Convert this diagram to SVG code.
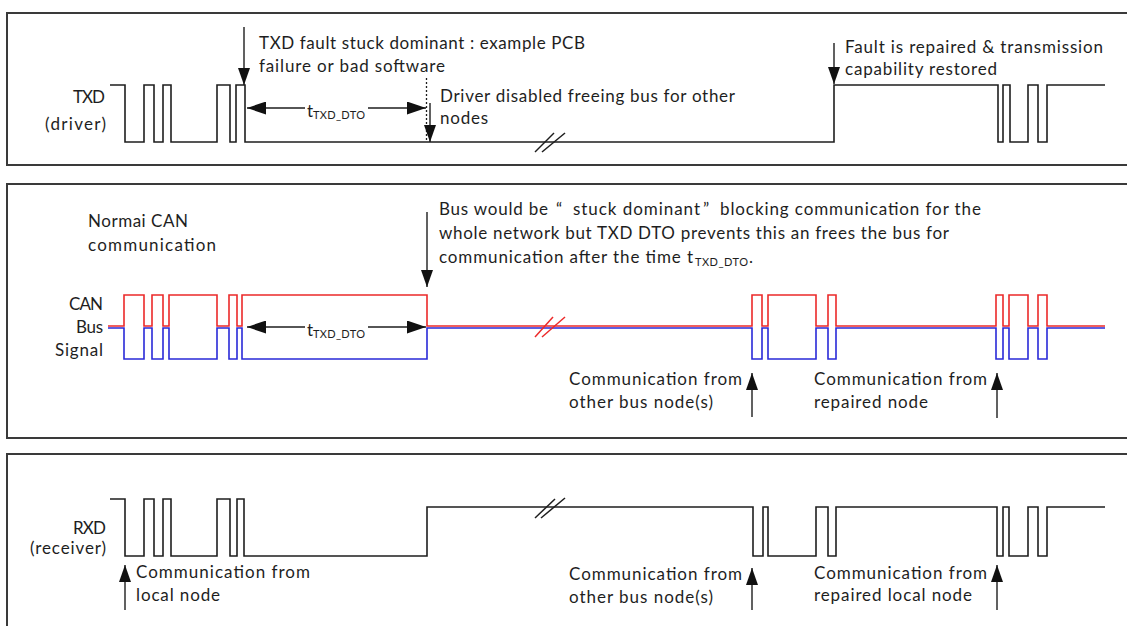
<svg xmlns="http://www.w3.org/2000/svg" width="1127" height="626" viewBox="0 0 1127 626">
<style>
.frame{fill:none;stroke:#3a3a3a;stroke-width:2}
.wave{fill:none;stroke:#1e1e1e;stroke-width:1.6}
.red{fill:none;stroke:#ec2a2a;stroke-width:1.6}
.blue{fill:none;stroke:#2a2ad8;stroke-width:1.6}
.conn{fill:none;stroke:#1e1e1e;stroke-width:1.4}
.dot{fill:none;stroke:#1e1e1e;stroke-width:1.3;stroke-dasharray:2 2}
.brk{stroke:#1e1e1e;stroke-width:1.5}
.brkr{stroke:#ec2a2a;stroke-width:1.5}
text{font-family:Lato,"Liberation Sans",sans-serif;font-size:17px;fill:#1e1e1e}
.sub{font-size:11px}
</style>
<defs>
<marker id="ah" markerUnits="userSpaceOnUse" markerWidth="17" markerHeight="12" refX="17" refY="6" orient="auto"><path d="M0,0 L17,6 L0,12 z" fill="#111"/></marker>
<marker id="ahd" markerUnits="userSpaceOnUse" markerWidth="19" markerHeight="13" refX="19" refY="6.5" orient="auto"><path d="M0,0 L19,6.5 L0,13 z" fill="#111"/></marker>
</defs>
<rect width="1127" height="626" fill="#fff"/>

<g id="panel-txd">
<rect class="frame" x="7" y="13" width="1130" height="152"/>
<text x="105" y="103" text-anchor="end" textLength="32">TXD</text>
<text x="106" y="130" text-anchor="end" textLength="61">(driver)</text>
<path class="wave" d="M110,85 H125 V142 H144 V85 H154 V142 H163 V85 H171 V142 H217 V85 H230 V142 H236 V85 H245 V142 H834 V85 H998 V142 H1003 V85 H1010 V142 H1028 V85 H1038 V142 H1047 V85 H1105"/>
<line class="brk" x1="535" y1="152" x2="554" y2="133"/>
<line class="brk" x1="542" y1="152" x2="565" y2="133"/>
<text x="259" y="49" textLength="326">TXD fault stuck dominant : example PCB</text>
<text x="259" y="72" textLength="186">failure or bad software</text>
<text x="440" y="102" textLength="295">Driver disabled freeing bus for other</text>
<text x="440" y="124" textLength="48">nodes</text>
<text x="845" y="53" textLength="258">Fault is repaired &amp; transmission</text>
<text x="845" y="75" textLength="152">capability restored</text>
<text x="307" y="117">t</text>
<text class="sub" x="313" y="119" textLength="52">TXD_DTO</text>
</g>

<g id="panel-can">
<rect class="frame" x="7" y="184" width="1130" height="254"/>
<text x="88" y="227" textLength="100">Normai CAN</text>
<text x="88" y="251" textLength="128">communication</text>
<text x="103" y="310" text-anchor="end" textLength="34">CAN</text>
<text x="103" y="333" text-anchor="end" textLength="27">Bus</text>
<text x="103" y="356" text-anchor="end" textLength="48">Signal</text>
<path class="blue" d="M108,328 H124 V359 H144 V328 H152 V359 H163 V328 H169 V359 H217 V328 H229 V359 H237 V328 H242 V359 H427 V328 H752 V359 H762 V328 H768 V359 H816 V328 H828 V359 H836 V328 H996 V359 H1003 V328 H1009 V359 H1028 V328 H1038 V359 H1047 V328 H1105"/>
<path class="red" d="M108,326 H124 V295 H144 V326 H152 V295 H163 V326 H169 V295 H217 V326 H229 V295 H237 V326 H242 V295 H427 V326 H752 V295 H762 V326 H768 V295 H816 V326 H828 V295 H836 V326 H996 V295 H1003 V326 H1009 V295 H1028 V326 H1038 V295 H1047 V326 H1105"/>
<line class="brkr" x1="535" y1="337" x2="553" y2="317"/>
<line class="brkr" x1="542" y1="337" x2="565" y2="317"/>
<text x="439" y="215" textLength="109">Bus would be</text>
<text x="556" y="215">“</text>
<text x="573" y="215" textLength="127">stuck dominant</text>
<text x="703" y="215">”</text>
<text x="720" y="215" textLength="261">blocking communication for the</text>
<text x="439" y="239" textLength="510">whole network but TXD DTO prevents this an frees the bus for</text>
<text x="439" y="263" textLength="254">communication after the time t</text>
<text class="sub" x="695" y="266" textLength="53">TXD_DTO</text>
<text x="749" y="263">.</text>
<text x="307" y="336">t</text>
<text class="sub" x="313" y="338" textLength="52">TXD_DTO</text>
<text x="569" y="385" textLength="173">Communication from</text>
<text x="569" y="408" textLength="144">other bus node(s)</text>
<text x="814" y="385" textLength="173">Communication from</text>
<text x="814" y="408" textLength="114">repaired node</text>
</g>

<g id="panel-rxd">
<rect class="frame" x="7" y="454" width="1130" height="200"/>
<text x="106" y="534" text-anchor="end" textLength="33">RXD</text>
<text x="106" y="554" text-anchor="end" textLength="76">(receiver)</text>
<path class="wave" d="M110,499 H125 V556 H144 V499 H154 V556 H163 V499 H171 V556 H217 V499 H230 V556 H237 V499 H244 V556 H427 V507 H753 V556 H763 V507 H768 V556 H816 V507 H828 V556 H836 V507 H997 V556 H1003 V507 H1009 V556 H1028 V507 H1038 V556 H1047 V507 H1105"/>
<line class="brk" x1="535" y1="518" x2="555" y2="499"/>
<line class="brk" x1="541" y1="518" x2="565" y2="498"/>
<text x="136" y="578" textLength="174">Communication from</text>
<text x="136" y="601" textLength="84">local node</text>
<text x="569" y="580" textLength="173">Communication from</text>
<text x="569" y="603" textLength="144">other bus node(s)</text>
<text x="814" y="579" textLength="173">Communication from</text>
<text x="814" y="601" textLength="158">repaired local node</text>
</g>

<g id="connectors">
<line class="conn" x1="244" y1="27" x2="244" y2="85" marker-end="url(#ah)"/>
<line class="conn" x1="305" y1="108" x2="247" y2="108" marker-end="url(#ahd)"/>
<line class="conn" x1="368" y1="108" x2="426" y2="108" marker-end="url(#ahd)"/>
<line class="dot" x1="426.5" y1="78" x2="426.5" y2="142"/>
<line class="conn" x1="430" y1="103" x2="430" y2="142" marker-end="url(#ah)"/>
<line class="conn" x1="834" y1="43" x2="834" y2="84" marker-end="url(#ah)"/>
<line class="conn" x1="427" y1="212" x2="427" y2="287" marker-end="url(#ah)"/>
<line class="conn" x1="305" y1="327" x2="247" y2="327" marker-end="url(#ahd)"/>
<line class="conn" x1="368" y1="327" x2="426" y2="327" marker-end="url(#ahd)"/>
<line class="conn" x1="752" y1="417" x2="752" y2="373" marker-end="url(#ah)"/>
<line class="conn" x1="997" y1="418" x2="997" y2="373" marker-end="url(#ah)"/>
<line class="conn" x1="125" y1="610" x2="125" y2="565" marker-end="url(#ah)"/>
<line class="conn" x1="752" y1="610" x2="752" y2="568" marker-end="url(#ah)"/>
<line class="conn" x1="997" y1="610" x2="997" y2="565" marker-end="url(#ah)"/>
</g>
</svg>
